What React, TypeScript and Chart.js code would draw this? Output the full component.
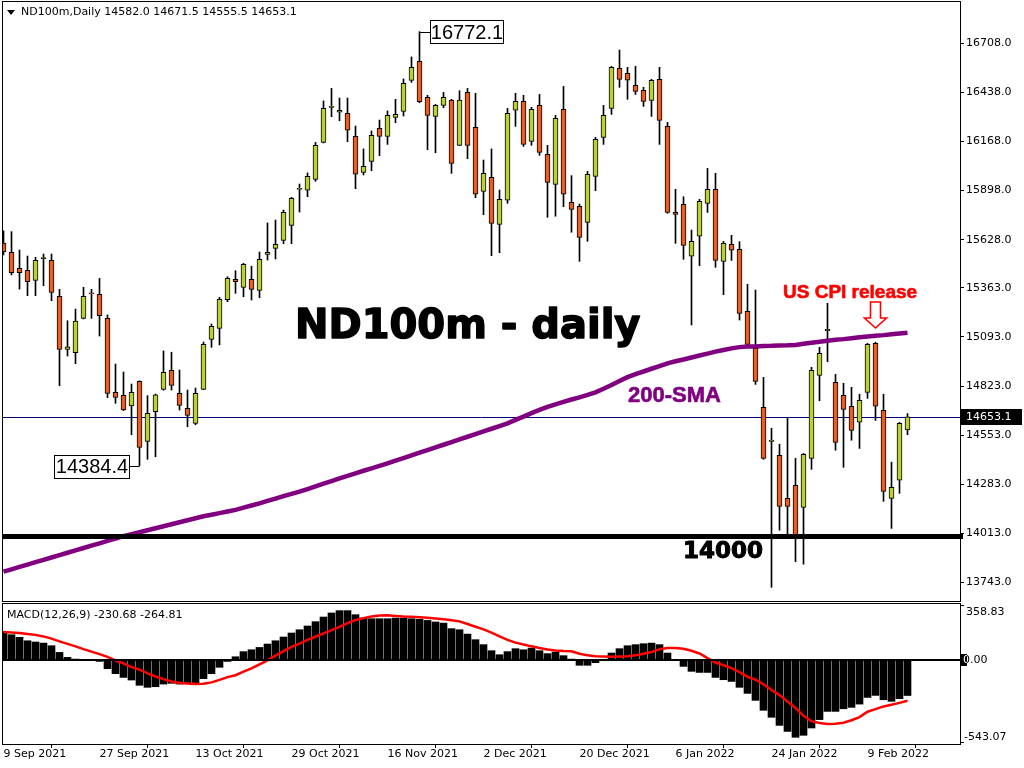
import React, { useEffect, useRef } from 'react';
import { Chart, registerables } from 'chart.js';
Chart.register(...registerables);

// ---------- data ----------
const symbolTitle = 'ND100m,Daily';
const headerOHLC = ['14582.0', '14671.5', '14555.5', '14653.1'];
const lastPrice = 14653.1;
const supportLevel = 14000;
const highLabel = { bar: 52, value: 16772.1 };
const lowLabel = { bar: 17, value: 14384.4 };
const cpiBar = 109;

const dateLabels = ['9 Sep 2021', '27 Sep 2021', '13 Oct 2021', '29 Oct 2021', '16 Nov 2021', '2 Dec 2021', '20 Dec 2021', '6 Jan 2022', '24 Jan 2022', '9 Feb 2022'];
const dateLabelBars = [0, 12, 24, 36, 48, 60, 72, 84, 96, 108];
const priceTicks = [13743, 14013, 14283, 14553, 14823, 15093, 15363, 15628, 15898, 16168, 16438, 16708];

const opens = [15609, 15558, 15470, 15459, 15404, 15524, 15514, 15316, 15025, 15006,
  15195, 15336, 15327, 15195, 14788, 14772, 14713, 14849, 14519, 14682,
  14805, 14909, 14783, 14700, 14618, 14805, 15080, 15140, 15298, 15410,
  15366, 15410, 15349, 15547, 15580, 15624, 15707, 15904, 15900, 15960,
  16163, 16356, 16329, 16323, 16196, 15998, 16059, 16240, 16196, 16301,
  16334, 16504, 16609, 16411, 16306, 16367, 16396, 16147, 16438, 16246,
  15894, 15971, 15712, 15845, 16340, 16389, 16169, 16367, 16097, 15932,
  16345, 15834, 15812, 15723, 15976, 16191, 16350, 16570, 16543, 16477,
  16450, 16394, 16510, 16251, 15778, 15822, 15537, 15647, 15828, 15905,
  15509, 15603, 15575, 15234, 15031, 14706, 14518, 14442, 14205, 14277,
  14156, 14425, 14882, 15127, 14843, 14772, 14712, 14624, 14788, 15058,
  14689, 14205, 14305, 14582.0];

const highs = [15676, 15672, 15571, 15538, 15531, 15549, 15549, 15355, 15182, 15246,
  15366, 15355, 15415, 15214, 14944, 14900, 14834, 14852, 14770, 14779,
  15016, 15009, 14911, 14801, 14812, 15065, 15164, 15311, 15424, 15457,
  15498, 15482, 15560, 15720, 15736, 15791, 15861, 15934, 15995, 16163,
  16391, 16460, 16407, 16407, 16253, 16127, 16226, 16286, 16336, 16400,
  16512, 16633, 16772.1, 16422, 16372, 16438, 16400, 16447, 16460, 16433,
  16066, 16127, 15901, 16350, 16433, 16422, 16356, 16427, 16147, 16312,
  16471, 15980, 15824, 16004, 16191, 16367, 16581, 16671, 16576, 16581,
  16466, 16510, 16576, 16273, 15905, 15864, 15681, 15850, 16020, 15993,
  15619, 15652, 15617, 15383, 15351, 14871, 14591, 14503, 14651, 14425,
  14452, 14926, 15036, 15278, 14887, 14838, 14816, 14778, 15058, 15064,
  14778, 14404, 14623, 14671.5];

const lows = [15544, 15434, 15356, 15320, 15320, 15375, 15292, 14825, 14988, 14946,
  15192, 15195, 15098, 14759, 14728, 14688, 14555, 14384.4, 14420, 14434,
  14800, 14801, 14691, 14599, 14610, 14803, 15036, 15049, 15287, 15333,
  15314, 15296, 15309, 15516, 15522, 15606, 15606, 15780, 15864, 15949,
  16160, 16304, 16282, 16167, 15908, 15984, 16007, 16090, 16152, 16271,
  16308, 16493, 16381, 16123, 16106, 16354, 15993, 16145, 16073, 15859,
  15765, 15540, 15556, 15828, 16251, 16141, 16147, 16092, 15751, 15757,
  15809, 15669, 15509, 15619, 15897, 16152, 16317, 16466, 16400, 16427,
  16361, 16306, 16152, 15773, 15608, 15520, 15159, 15485, 15778, 15476,
  15325, 15514, 15186, 15049, 14832, 14420, 13716, 14030, 14008, 13857,
  13843, 14365, 14742, 14957, 14470, 14376, 14525, 14480, 14755, 14634,
  14189, 14040, 14233, 14555.5];

const closes = [15560, 15446, 15446, 15397, 15514, 15530, 15338, 15025, 15038, 15180,
  15316, 15330, 15210, 14783, 14761, 14691, 14788, 14486, 14673, 14774,
  14898, 14827, 14717, 14662, 14783, 15052, 15151, 15300, 15415, 15397,
  15492, 15355, 15520, 15558, 15602, 15778, 15856, 15910, 15977, 16147,
  16350, 16362, 16340, 16230, 15988, 16031, 16202, 16196, 16312, 16318,
  16488, 16576, 16387, 16312, 16367, 16411, 16048, 16396, 16147, 15878,
  15993, 15718, 15850, 16323, 16389, 16152, 16345, 16108, 15943, 16295,
  15878, 15795, 15641, 15988, 16180, 16312, 16576, 16510, 16505, 16444,
  16389, 16504, 16284, 15778, 15767, 15597, 15619, 15839, 15905, 15514,
  15608, 15570, 15223, 15052, 14849, 14425, 14526, 14161, 14161, 14002,
  14448, 14909, 15003, 15135, 14513, 14695, 14579, 14744, 15052, 14712,
  14244, 14266, 14618, 14653.1];

const sma200 = [13802, 13815, 13828, 13841, 13854, 13867, 13880, 13893, 13906, 13919,
  13932, 13945, 13958, 13971, 13984, 13997, 14008, 14019, 14030, 14041,
  14052, 14063, 14074, 14085, 14096, 14107, 14115, 14124, 14133, 14142,
  14154, 14166, 14178, 14191, 14204, 14217, 14230, 14242, 14256, 14271,
  14286, 14300, 14315, 14329, 14343, 14357, 14370, 14384, 14398, 14413,
  14427, 14442, 14457, 14471, 14486, 14500, 14515, 14530, 14544, 14559,
  14574, 14588, 14603, 14618, 14637, 14655, 14674, 14692, 14708, 14722,
  14736, 14749, 14761, 14774, 14788, 14808, 14829, 14851, 14872, 14889,
  14903, 14918, 14933, 14948, 14959, 14969, 14980, 14991, 15001, 15012,
  15021, 15030, 15037, 15040, 15041, 15043, 15044, 15046, 15047, 15049,
  15055, 15061, 15066, 15072, 15077, 15081, 15086, 15091, 15095, 15099,
  15103, 15108, 15112, 15116];

const macdMain = [182, 161, 144, 122, 114, 107, 90, 47, 15, 4,
  2, -1, -11, -58, -90, -114, -131, -165, -178, -174,
  -157, -152, -157, -150, -150, -122, -90, -49, -11, 19,
  52, 64, 79, 101, 122, 146, 172, 193, 217, 245,
  275, 301, 316, 316, 290, 268, 264, 264, 264, 268,
  268, 264, 260, 253, 243, 236, 200, 193, 165, 129,
  97, 58, 32, 52, 71, 64, 75, 58, 39, 49,
  26, 4, -36, -36, -19, 3, 43, 71, 90, 97,
  103, 107, 97, 43, -3, -43, -75, -82, -82, -114,
  -129, -140, -178, -217, -262, -326, -371, -423, -462, -500,
  -487, -440, -386, -333, -333, -316, -307, -286, -243, -230,
  -258, -268, -251, -230.68];

const macdSignal = [178, 175, 172, 166, 160, 150, 136, 118, 102, 86,
  68, 52, 36, 18, -5, -24, -48, -64, -88, -108,
  -125, -140, -150, -154, -157, -155, -146, -130, -112, -100,
  -77, -56, -30, -4, 26, 55, 82, 104, 128, 148,
  170, 190, 212, 236, 256, 268, 278, 284, 286, 282,
  278, 276, 273, 270, 266, 260, 254, 247, 230, 212,
  195, 175, 150, 128, 110, 98, 86, 76, 66, 60,
  56, 54, 38, 28, 22, 20, 19, 20, 22, 28,
  38, 49, 68, 75, 76, 70, 58, 40, 10, -18,
  -36, -54, -80, -110, -128, -158, -195, -228, -270, -310,
  -362, -396, -408, -414, -412, -406, -390, -370, -335, -318,
  -301, -290, -278, -264.81];

const macdTitle = 'MACD(12,26,9) -230.68 -264.81';
const macdMax = 358.83;
const macdMin = -543.07;

// ---------- styles ----------
const BULL = '#BCD12E';
const BEAR = '#EF5B1F';
const PURPLE = '#800080';
const FONT = "'DejaVu Sans', sans-serif";

const X_MIN = -0.0625;
const X_MAX = 119.5625;
const Y_MIN = 13640.65;
const Y_MAX = 16935.15;

function frame(ctx: CanvasRenderingContext2D, a: any) {
  ctx.strokeStyle = '#000';
  ctx.lineWidth = 1;
  ctx.strokeRect(a.left - 0.5, a.top - 0.5, a.right - a.left + 1, a.bottom - a.top + 1);
}

function heavyText(ctx: CanvasRenderingContext2D, text: string, x: number, y: number, color: string, w: number) {
  ctx.fillStyle = color;
  ctx.strokeStyle = color;
  ctx.lineWidth = w;
  ctx.lineJoin = 'round';
  ctx.strokeText(text, x, y);
  ctx.fillText(text, x, y);
}

const mainDecor = {
  id: 'mainDecor',
  beforeDatasetsDraw(chart: any) {
    const { ctx, chartArea: a, scales } = chart;
    const y = Math.round(scales.y.getPixelForValue(lastPrice)) + 0.5;
    ctx.save();
    ctx.strokeStyle = '#000080';
    ctx.lineWidth = 1;
    ctx.beginPath();
    ctx.moveTo(a.left, y);
    ctx.lineTo(a.right, y);
    ctx.stroke();
    ctx.restore();
  },
  afterDatasetsDraw(chart: any) {
    const { ctx, chartArea: a, scales } = chart;
    const y = Math.round(scales.y.getPixelForValue(supportLevel));
    ctx.save();
    ctx.fillStyle = '#000';
    ctx.fillRect(a.left, y - 2, a.right - a.left + 3, 5);
    ctx.restore();
  },
  afterDraw(chart: any) {
    const { ctx, chartArea: a, scales } = chart;
    const xs = scales.x, ys = scales.y;
    ctx.save();
    frame(ctx, a);

    // header
    ctx.fillStyle = '#000';
    ctx.beginPath();
    ctx.moveTo(7, 10);
    ctx.lineTo(15, 10);
    ctx.lineTo(11, 15);
    ctx.closePath();
    ctx.fill();
    ctx.font = `11px ${FONT}`;
    ctx.textBaseline = 'middle';
    ctx.textAlign = 'left';
    ctx.fillText(`${symbolTitle} ${headerOHLC.join(' ')}`, 21, 12.5);

    // high label
    ctx.font = "20px 'Liberation Sans', sans-serif";
    const hx = xs.getPixelForValue(highLabel.bar);
    const hy = Math.round(ys.getPixelForValue(highLabel.value)) + 0.5;
    ctx.strokeStyle = '#000';
    ctx.lineWidth = 1;
    ctx.beginPath();
    ctx.moveTo(hx, hy);
    ctx.lineTo(hx + 11, hy);
    ctx.stroke();
    ctx.fillStyle = '#fff';
    ctx.fillRect(hx + 11, hy - 12, 73, 23);
    ctx.strokeRect(hx + 11, hy - 12, 73, 23);
    ctx.fillStyle = '#000';
    ctx.textAlign = 'center';
    ctx.fillText(highLabel.value.toFixed(1), hx + 11 + 36.5, hy + 0.5);

    // low label
    const lx = xs.getPixelForValue(lowLabel.bar);
    const ly = Math.round(ys.getPixelForValue(lowLabel.value)) + 0.5;
    ctx.beginPath();
    ctx.moveTo(lx, ly);
    ctx.lineTo(lx - 10, ly);
    ctx.stroke();
    ctx.fillStyle = '#fff';
    ctx.fillRect(lx - 10 - 75, ly - 11, 75, 23);
    ctx.strokeRect(lx - 10 - 75, ly - 11, 75, 23);
    ctx.fillStyle = '#000';
    ctx.fillText(lowLabel.value.toFixed(1), lx - 10 - 37.5, ly + 1);

    // title
    ctx.textAlign = 'left';
    ctx.textBaseline = 'alphabetic';
    ctx.font = `bold 40px ${FONT}`;
    heavyText(ctx, 'ND100m - daily', 295, 338, '#000', 1.5);

    // 14000 label
    ctx.font = `bold 23px ${FONT}`;
    heavyText(ctx, '14000', 683, 558, '#000', 1);

    // 200-SMA label
    ctx.font = "bold 22px 'Liberation Sans', sans-serif";
    heavyText(ctx, '200-SMA', 628, 401.5, PURPLE, 0.6);

    // US CPI release
    ctx.font = "bold 19px 'Liberation Sans', sans-serif";
    heavyText(ctx, 'US CPI release', 783, 297.5, '#FF0000', 0.6);

    // arrow
    const cx = Math.round(xs.getPixelForValue(cpiBar)) - 0.5;
    ctx.beginPath();
    ctx.moveTo(cx - 5, 302);
    ctx.lineTo(cx + 5, 302);
    ctx.lineTo(cx + 5, 318);
    ctx.lineTo(cx + 11, 318);
    ctx.lineTo(cx, 328);
    ctx.lineTo(cx - 11, 318);
    ctx.lineTo(cx - 5, 318);
    ctx.closePath();
    ctx.fillStyle = '#fff';
    ctx.fill();
    ctx.strokeStyle = '#FF0000';
    ctx.lineWidth = 1.6;
    ctx.lineJoin = 'miter';
    ctx.stroke();

    // current price box
    const py = Math.round(ys.getPixelForValue(lastPrice));
    ctx.fillStyle = '#000';
    ctx.fillRect(a.right + 1, py - 8, 61, 16);
    ctx.fillStyle = '#fff';
    ctx.font = `11px ${FONT}`;
    ctx.textBaseline = 'middle';
    ctx.fillText(lastPrice.toFixed(1), a.right + 6, py + 0.5);
    ctx.restore();
  },
};

const macdDecor = {
  id: 'macdDecor',
  afterDatasetsDraw(chart: any) {
    const { ctx, chartArea: a, scales } = chart;
    const y0 = Math.round(scales.y.getPixelForValue(0));
    ctx.save();
    ctx.fillStyle = '#000';
    ctx.fillRect(a.left, y0 - 1, a.right - a.left, 2);
    ctx.restore();
  },
  afterDraw(chart: any) {
    const { ctx, chartArea: a, scales } = chart;
    ctx.save();
    frame(ctx, a);
    ctx.fillStyle = '#000';
    ctx.font = `11px ${FONT}`;
    ctx.textBaseline = 'middle';
    ctx.textAlign = 'left';
    ctx.fillText(macdTitle, 7, 13);

    const y0 = Math.round(scales.y.getPixelForValue(0));
    const yTop = a.top;
    const yBot = a.bottom;
    ctx.strokeStyle = '#000';
    ctx.lineWidth = 1;
    ctx.beginPath();
    ctx.moveTo(a.right, yTop + 1.5); ctx.lineTo(a.right + 4, yTop + 1.5);
    ctx.moveTo(a.right, yBot - 1.5); ctx.lineTo(a.right + 4, yBot - 1.5);
    ctx.stroke();
    ctx.fillText(macdMax.toFixed(2), a.right + 6, yTop + 8);
    ctx.fillText(macdMin.toFixed(2), a.right + 4, yBot - 7);
    // zero level marker
    ctx.fillRect(a.right + 1, y0 - 6, 6, 12);
    ctx.fillText('0.00', a.right + 3, y0);
    ctx.save();
    ctx.beginPath();
    ctx.rect(a.right + 1, y0 - 6, 6, 12);
    ctx.clip();
    ctx.fillStyle = '#fff';
    ctx.fillText('0.00', a.right + 3, y0);
    ctx.restore();
    ctx.restore();
  },
};

export default function App() {
  const mainRef = useRef<HTMLCanvasElement>(null);
  const macdRef = useRef<HTMLCanvasElement>(null);

  useEffect(() => {
    Chart.defaults.font.family = FONT;
    Chart.defaults.font.size = 11;
    Chart.defaults.color = '#000';

    const idx = closes.map((_, i) => i);
    const wickData = idx.map((i) => ({ x: i, y: [lows[i], highs[i]] }));
    const bodyData = idx.map((i) => {
      const lo = Math.min(opens[i], closes[i]);
      const hi = Math.max(opens[i], closes[i]);
      return { x: i, y: [lo, hi] };
    });
    const bodyColors = idx.map((i) => (closes[i] >= opens[i] ? BULL : BEAR));
    const smaData = idx.map((i) => ({ x: i, y: sma200[i] }));
    const histData = idx.map((i) => ({ x: i, y: macdMain[i] }));
    const sigData = idx.map((i) => ({ x: i, y: macdSignal[i] }));

    const main = new Chart(mainRef.current as HTMLCanvasElement, {
      type: 'bar',
      data: {
        datasets: [
          { type: 'line', data: smaData as any, borderColor: PURPLE, borderWidth: 4.5, pointRadius: 0, tension: 0, order: 0, clip: 0 } as any,
          { type: 'bar', data: bodyData as any, backgroundColor: bodyColors, borderColor: '#000', borderWidth: 1, borderSkipped: false, barThickness: 5, grouped: false, order: 1, clip: 0 } as any,
          { type: 'bar', data: wickData as any, backgroundColor: '#000', borderWidth: 0, barThickness: 1, grouped: false, order: 2, clip: 0 } as any,
        ],
      },
      options: {
        responsive: false,
        animation: false,
        devicePixelRatio: 1,
        events: [],
        layout: { padding: { left: 3, top: 2, right: 0, bottom: 1 } },
        plugins: { legend: { display: false }, tooltip: { enabled: false } },
        scales: {
          x: { type: 'linear', min: X_MIN, max: X_MAX, display: false, offset: false },
          y: {
            type: 'linear',
            position: 'right',
            min: Y_MIN,
            max: Y_MAX,
            afterBuildTicks: (s: any) => { s.ticks = priceTicks.map((v) => ({ value: v })); },
            afterFit: (s: any) => { s.width = 64; s.paddingTop = 0; s.paddingBottom = 0; },
            ticks: { callback: (v: any) => Number(v).toFixed(1), padding: 2, color: '#000', autoSkip: false, font: { size: 11, family: FONT } },
            grid: { drawOnChartArea: false, drawTicks: true, tickLength: 4, color: '#000' },
            border: { display: false },
          },
        },
      } as any,
      plugins: [mainDecor],
    });

    const macd = new Chart(macdRef.current as HTMLCanvasElement, {
      type: 'bar',
      data: {
        datasets: [
          { type: 'line', data: sigData as any, borderColor: '#FF0000', borderWidth: 2.5, pointRadius: 0, tension: 0, order: 0, clip: 0 } as any,
          { type: 'bar', data: histData as any, backgroundColor: '#000', borderWidth: 0, barThickness: 7, grouped: false, order: 1, clip: 0 } as any,
        ],
      },
      options: {
        responsive: false,
        animation: false,
        devicePixelRatio: 1,
        events: [],
        layout: { padding: { left: 3, top: 2, right: 64, bottom: 4 } },
        plugins: { legend: { display: false }, tooltip: { enabled: false } },
        scales: {
          x: {
            type: 'linear',
            min: X_MIN,
            max: X_MAX,
            offset: false,
            position: 'bottom',
            afterBuildTicks: (s: any) => { s.ticks = dateLabelBars.map((v) => ({ value: v })); },
            afterFit: (s: any) => { s.height = 20; s.paddingLeft = 0; s.paddingRight = 0; },
            ticks: {
              callback: (_v: any, i: number) => dateLabels[i],
              align: 'start',
              padding: 0,
              autoSkip: false,
              maxRotation: 0,
              minRotation: 0,
              color: '#000',
              font: { size: 11, family: FONT },
            },
            grid: { drawOnChartArea: false, drawTicks: true, tickLength: 4, color: '#000' },
            border: { display: false },
          },
          y: { type: 'linear', min: macdMin, max: macdMax, display: false },
        },
      } as any,
      plugins: [macdDecor],
    });

    return () => {
      main.destroy();
      macd.destroy();
    };
  }, []);

  return (
    <div style={{ position: 'absolute', left: 0, top: 0, width: 1024, height: 768, background: '#fff', overflow: 'hidden' }}>
      <canvas ref={mainRef} width={1024} height={602} style={{ position: 'absolute', left: 0, top: 0, width: 1024, height: 602 }} />
      <canvas ref={macdRef} width={1024} height={166} style={{ position: 'absolute', left: 0, top: 602, width: 1024, height: 166 }} />
    </div>
  );
}
